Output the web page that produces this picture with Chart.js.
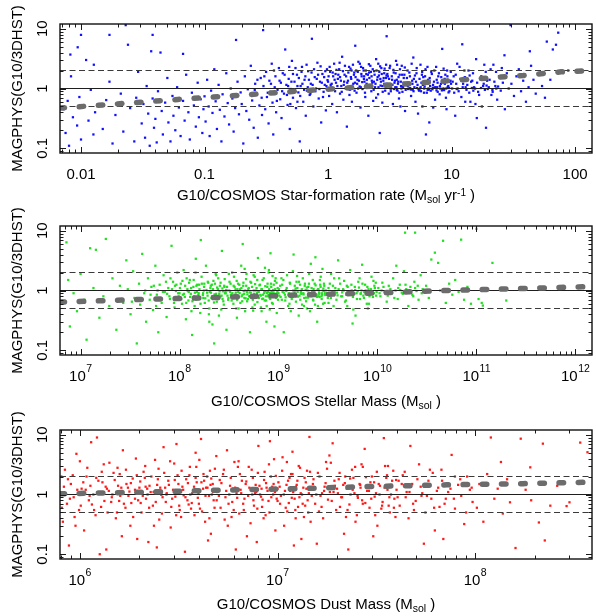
<!DOCTYPE html>
<html>
<head>
<meta charset="utf-8">
<script src="https://cdn.jsdelivr.net/npm/chart.js@4.4.1/dist/chart.umd.min.js"></script>
<style>
  html, body { margin: 0; padding: 0; background: #fff; }
  #wrap { position: relative; width: 596px; height: 616px; overflow: hidden; }
  #wrap canvas { position: absolute; left: 0; }
</style>
</head>
<body>
<div id="wrap">
  <canvas id="sfrChart" width="596" height="210" style="top:0px"></canvas>
  <canvas id="massChart" width="596" height="210" style="top:202px"></canvas>
  <canvas id="dustChart" width="596" height="210" style="top:406px"></canvas>
</div>
<script>
'use strict';

// ── Shared y axis (MAGPHYS / G10 ratio) ───────────────────
const ratioRange      = [0.0832, 12.02];
const ratioTicks      = [0.1, 1, 10];
const ratioTickLabels = ['0.1', '1', '10'];
const refLevels       = [0.5, 1, 2];

// ── Panel 1: star-formation rate ──────────────────────────
const sfrRange      = [0.00676, 137];
const sfrTicks      = [0.01, 0.1, 1, 10, 100];
const sfrTickLabels = ['0.01', '0.1', '1', '10', '100'];
const sfrTrendX     = [0.00676, 0.0207, 0.0608, 0.182, 0.516, 1.49, 4.39, 12.9, 38, 77, 120];
const sfrTrendY     = [0.47, 0.556, 0.656, 0.764, 0.891, 1.03, 1.2, 1.41, 1.65, 1.9, 1.98];
const sfrPoints = [
  [0.0072,0.45],[0.0075,0.18],[0.0078,0.62],[0.008,0.11],[0.0082,3.7],[0.0083,1.6],[0.0086,0.33],[0.0094,4.9],[0.0093,0.24],[0.0097,0.72],
  [0.01,7.9],[0.01,0.14],[0.0105,0.5],[0.011,3.0],[0.0115,0.29],[0.012,0.95],[0.0127,2.5],[0.0126,0.17],[0.013,0.4],[0.015,0.21],
  [0.016,0.64],[0.017,7.9],[0.017,1.3],[0.018,0.12],[0.019,0.36],[0.021,0.82],[0.022,0.19],[0.023,11.5],[0.024,5.4],[0.025,0.47],
  [0.027,0.13],[0.028,0.7],[0.029,1.9],
  [0.031,0.26],[0.032,0.55],[0.033,0.15],[0.034,1.1],[0.035,0.38],[0.036,0.11],[0.037,4.2],[0.038,7.9],[0.038,0.68],[0.039,0.22],
  [0.04,0.31],[0.041,0.125],[0.042,0.9],[0.044,4.0],[0.045,0.42],[0.046,0.17],[0.048,0.58],[0.05,1.5],[0.051,0.27],[0.053,0.13],
  [0.055,0.75],[0.056,0.35],[0.058,0.2],[0.06,1.05],[0.062,0.48],[0.064,0.16],[0.067,3.8],[0.067,0.62],[0.069,0.29],[0.071,1.7],
  [0.074,0.4],[0.076,0.14],[0.079,0.85],[0.082,0.52],[0.085,0.23],[0.088,1.25],[0.09,0.33],[0.093,0.66],[0.096,0.18],[0.098,0.45],
  [0.1,0.74],[0.102,0.28],[0.105,1.4],[0.108,0.5],[0.11,0.16],[0.113,0.92],[0.116,0.39],[0.12,2.1],[0.123,0.61],[0.126,0.21],
  [0.13,1.15],[0.133,0.44],[0.137,0.13],[0.14,0.8],[0.145,0.34],[0.15,1.8],[0.154,0.57],[0.158,0.25],[0.163,1.0],[0.168,0.68],
  [0.172,0.19],[0.177,0.47],[0.18,6.5],[0.185,1.3],[0.19,0.37],[0.196,0.86],[0.2,0.55],[0.206,0.12],[0.212,1.6],[0.218,0.42],
  [0.224,0.97],[0.23,0.3],[0.237,2.4],[0.243,0.63],[0.25,0.22],[0.257,1.2],[0.264,0.78],[0.27,0.15],[0.278,0.52],[0.285,1.5],
  [0.292,0.36],[0.298,9.5],
  [0.255,0.95],[0.268,1.4],[0.29,0.7],[0.305,1.6],[0.325,0.85],[0.345,1.2],[0.365,2.0],[0.385,0.62],[0.405,1.35],[0.425,0.9],
  [0.445,1.7],[0.465,0.78],[0.475,1.1],[0.485,2.3],[0.495,0.55],
  [0.3,1.1],[0.31,0.45],[0.315,1.9],[0.32,0.72],[0.33,0.26],[0.335,1.35],[0.34,0.88],[0.35,2.6],[0.355,0.58],[0.36,0.17],
  [0.37,1.05],[0.375,1.6],[0.38,0.4],[0.39,0.95],[0.4,2.2],[0.41,0.66],[0.415,1.25],[0.42,0.32],[0.43,1.8],[0.44,0.82],
  [0.45,4.5],[0.46,1.15],[0.47,0.53],[0.48,1.45],[0.49,0.21],[0.5,0.98],[0.51,2.9],[0.52,0.7],[0.535,1.3],[0.55,0.47],
  [0.56,1.7],[0.575,0.86],[0.59,0.13],[0.6,1.1],[0.615,2.3],[0.63,0.6],[0.645,1.4],[0.66,0.35],[0.675,0.92],[0.69,1.95],
  [0.71,0.78],[0.725,1.2],[0.74,6.8],[0.76,0.5],[0.78,1.55],[0.8,1.0],[0.82,2.7],[0.84,0.68],[0.86,1.3],[0.88,0.27],
  [0.9,1.75],[0.92,0.88],[0.94,1.15],[0.96,0.43],[0.98,2.1],
  [0.505,1.3],[0.52,1.75],[0.53,0.9],[0.545,2.2],[0.565,1.1],[0.58,1.5],[0.595,0.75],[0.61,1.9],[0.62,1.2],[0.64,0.95],
  [0.655,1.6],[0.67,2.5],[0.685,1.05],[0.7,1.4],[0.72,0.82],[0.735,1.85],[0.75,1.15],[0.77,2.1],[0.79,0.9],[0.81,1.45],
  [0.83,1.7],[0.85,0.98],[0.87,2.35],[0.89,1.25],[0.91,0.72],[0.93,1.55],[0.95,1.95],[0.97,1.1],[0.99,1.38],[0.565,0.6],
  [1.0,1.3],[1.02,0.75],[1.04,1.9],[1.06,1.05],[1.08,0.55],[1.1,1.6],[1.12,2.6],[1.14,0.9],[1.16,1.25],[1.18,0.4],
  [1.2,1.45],[1.23,2.1],[1.25,0.82],[1.28,1.1],[1.3,3.4],[1.33,0.65],[1.36,1.7],[1.39,1.0],[1.42,0.23],[1.45,1.35],
  [1.48,2.3],[1.5,0.95],[1.53,1.55],[1.56,0.6],[1.6,1.2],[1.63,1.85],[1.66,5.2],[1.7,0.85],[1.73,1.4],[1.76,2.8],
  [1.8,1.08],[1.83,0.48],[1.87,1.6],[1.9,0.98],[1.94,2.0],[1.97,1.3],[2.0,0.72],[2.04,1.75],[2.08,1.15],[2.12,0.35],
  [2.16,1.5],[2.2,2.4],[2.24,0.9],[2.28,1.25],[2.32,0.62],[2.36,1.95],[2.4,1.05],[2.45,3.1],[2.5,1.4],[2.54,0.8],
  [2.58,1.65],[2.62,0.18],[2.66,1.12],[2.7,2.2],[2.75,0.58],[2.8,1.35],[2.85,1.8],[2.9,0.92],[2.95,1.5],[2.98,7.5],
  [1.15,1.75],[1.35,1.3],[1.55,2.0],[1.75,1.0],[1.95,1.45],[2.15,1.85],[2.35,1.3],[2.55,2.6],[2.75,1.1],[1.25,1.55],
  [1.45,0.98],[1.65,1.25],[1.85,2.3],[2.05,1.2],[2.25,1.6],[2.45,0.7],[2.65,1.45],[2.85,1.2],[1.05,1.15],[2.95,2.5],
  [1.01,1.6],[1.03,2.3],[1.07,1.2],[1.09,1.85],[1.11,0.95],[1.13,1.4],[1.17,2.05],[1.19,1.1],[1.21,1.7],[1.24,2.7],
  [1.27,1.35],[1.29,0.88],[1.32,1.95],[1.34,1.15],[1.37,2.4],[1.4,1.6],[1.43,1.25],[1.46,1.85],[1.49,0.78],[1.52,2.15],
  [1.54,1.45],[1.57,1.1],[1.59,2.5],[1.62,1.7],[1.64,0.92],[1.67,1.55],[1.69,2.0],[1.72,1.2],[1.74,1.9],[1.78,1.35],
  [1.81,2.6],[1.84,1.05],[1.86,1.75],[1.89,1.28],[1.92,2.2],[1.96,1.6],[1.99,0.85],[2.02,2.0],[2.06,1.4],[2.1,1.7],
  [2.14,2.55],[2.18,1.15],[2.22,1.9],[2.26,1.35],[2.3,2.1],[2.34,0.95],[2.38,1.7],[2.42,1.2],[2.47,2.0],[2.52,1.55],
  [2.56,1.05],[2.6,1.9],[2.64,2.35],[2.68,1.3],[2.72,1.75],[2.77,0.88],[2.82,1.5],[2.87,2.15],[2.92,1.1],[2.97,1.65],
  [3.0,1.2],[3.05,1.6],[3.1,0.82],[3.15,2.2],[3.2,1.0],[3.3,1.4],[3.35,0.55],[3.4,1.85],[3.5,1.05],[3.55,2.9],
  [3.6,0.95],[3.7,1.3],[3.75,0.68],[3.8,1.7],[3.9,1.1],[3.95,2.4],[4.0,0.88],[4.1,1.5],[4.2,0.42],[4.3,1.2],
  [4.4,2.0],[4.5,1.0],[4.6,1.6],[4.7,0.75],[4.8,1.35],[4.9,3.3],[5.0,1.05],[5.1,0.6],[5.2,1.8],[5.3,1.15],
  [5.45,0.92],[5.6,2.5],[5.7,1.25],[5.8,0.5],[5.9,1.55],[6.0,1.0],[6.15,2.1],[6.3,0.85],[6.45,1.4],[6.6,0.27],
  [6.7,1.1],[6.85,1.9],[7.0,0.97],[7.2,1.3],[7.35,0.65],[7.5,2.3],[7.65,1.05],[7.8,1.6],[8.0,0.8],[8.2,1.2],
  [8.4,4.6],[8.6,1.0],[8.8,1.45],[9.0,0.7],[9.2,2.0],[9.4,1.1],[9.6,0.9],[9.8,1.35],
  [3.25,1.0],[3.65,0.92],[4.05,1.05],[4.45,0.98],[4.85,0.95],[5.25,1.02],[5.65,0.9],[6.05,1.08],[6.55,0.96],[7.05,1.03],
  [7.55,0.93],[8.1,1.0],[8.7,0.94],[9.3,1.06],[3.45,1.25],[4.15,1.7],[4.95,1.45],[5.75,1.7],[6.65,1.5],[7.7,1.25],
  [8.9,1.7],[9.9,1.2],[3.85,0.5],[5.35,0.38],[7.1,0.48],[9.1,0.45],[6.2,0.17],
  [3.02,1.75],[3.08,1.1],[3.12,1.45],[3.18,2.4],[3.22,0.9],[3.28,1.6],[3.32,1.15],[3.38,2.05],[3.42,0.98],[3.48,1.35],
  [3.52,1.8],[3.58,1.05],[3.62,2.5],[3.68,1.2],[3.72,1.55],[3.78,0.85],[3.82,2.1],[3.88,1.3],[3.92,1.0],[3.98,1.7],
  [4.08,1.25],[4.18,2.25],[4.25,0.95],[4.35,1.5],[4.42,1.1],[4.55,1.85],[4.62,1.02],[4.75,2.6],[4.82,1.2],[4.92,0.9],
  [5.05,1.65],[5.15,1.3],[5.22,2.2],[5.4,0.97],[5.5,1.45],[5.62,1.05],[5.78,1.9],[5.85,1.15],[5.98,0.85],[6.1,1.6],
  [6.25,1.25],[6.38,2.3],[6.5,1.0],[6.62,1.35],[6.78,0.92],[6.92,1.75],[7.08,1.15],[7.25,2.0],[7.4,1.05],[7.58,1.4],
  [7.72,0.88],[7.9,1.8],[8.05,1.1],[8.25,1.55],[8.45,0.98],[8.62,2.15],[8.82,1.2],[9.05,1.0],[9.25,1.6],[9.45,0.86],
  [9.65,1.3],[9.85,1.9],[4.02,1.08],[4.68,0.96],[5.55,1.0],[6.4,0.95],[7.3,1.04],[8.35,0.93],[9.55,1.02],[3.6,1.4],
  [10.2,1.3],[10.5,0.85],[10.8,1.7],[11.2,1.0],[11.6,2.3],[12.0,0.72],[12.4,1.2],[12.8,1.55],[13.2,0.95],[13.7,2.0],
  [14.2,0.6],[14.7,1.35],[15.2,1.05],[15.8,3.1],[16.4,0.88],[17.0,1.5],[17.6,0.5],[18.2,1.2],[18.9,1.9],[19.6,0.98],
  [20.3,1.4],[21.0,0.78],[21.8,2.5],[22.6,1.1],[23.4,0.65],[24.2,1.6],[25.0,0.92],[26.0,1.25],[27.0,0.45],[28.0,1.8],
  [29.0,1.0],[11.0,0.98],[13.0,1.05],[15.0,0.92],[17.3,1.02],[19.2,1.12],[21.4,0.95],[23.8,1.08],[10.7,0.35],[16.0,0.32],
  [12.2,5.5],[19.0,0.22],[25.5,2.2],[14.0,1.65],[26.8,3.6],[30,11.5],
  [10.1,1.0],[10.4,1.6],[10.9,1.2],[11.4,0.9],[11.8,1.45],[12.3,1.05],[12.7,2.0],[13.4,1.15],[13.9,0.85],[14.4,1.3],
  [14.9,1.8],[15.5,1.0],[16.1,1.25],[16.7,0.78],[17.4,1.6],[18.0,1.1],[18.6,0.95],[19.4,1.35],[20.0,1.05],[20.7,2.1],
  [21.5,0.88],[22.2,1.3],[23.0,1.0],[24.6,1.5],[11.1,2.6],[12.9,0.6],[15.6,0.55],[18.4,2.5],[22.9,1.9],[14.6,1.02],
  [30.5,1.2],[32,0.75],[33.5,1.6],[35,2.1],[36.5,0.9],[38,1.35],[40,0.6],[42,1.05],[44,2.4],[46,1.4],
  [48,0.82],[51,1.8],[54,1.1],[57,0.7],[43,4.2],
  [59,6.1],[66,4.5],[70,5.4],[73,8.6],[80,1.9],[88,2.0],[105,1.9],[63,1.4]
];

// ── Panel 2: stellar mass ─────────────────────────────────
const massRange    = [6.2e6, 1.47e12];
const massTicks    = [1e7, 1e8, 1e9, 1e10, 1e11, 1e12];
const massTickExps = ['7', '8', '9', '10', '11', '12'];
const massTrendX   = [6.2e6, 4e7, 2.38e8, 1.39e9, 8.3e9, 5.0e10, 2.95e11, 1.25e12];
const massTrendY   = [0.64, 0.708, 0.764, 0.836, 0.902, 1.0, 1.08, 1.155];
const massPoints = [
  [6.5e6,0.68],[7.2e6,6.4],[7.5e6,1.5],[7.8e6,0.25],[8.5e6,0.9],[9.2e6,0.45],[1.0e7,1.9],[1.1e7,0.7],[1.15e7,0.15],[1.25e7,5.1],
  [1.35e7,1.1],[1.43e7,4.8],[1.55e7,0.35],[1.7e7,0.8],[1.8e7,7.3],[1.95e7,0.55],[2.1e7,1.6],[2.3e7,0.22],[2.5e7,1.2],[2.7e7,0.62],
  [2.9e7,3.2],
  [3.0e7,1.05],[3.2e7,0.4],[3.4e7,2.1],[3.5e7,0.75],[3.7e7,0.13],[3.9e7,1.3],[4.0e7,0.58],[4.2e7,4.1],[4.4e7,0.9],[4.6e7,0.3],
  [4.8e7,1.6],[5.0e7,0.7],[5.2e7,1.15],[5.4e7,0.47],[5.7e7,2.6],[5.9e7,0.85],[6.1e7,0.2],[6.3e7,1.25],[6.6e7,0.62],[6.9e7,1.8],
  [7.1e7,0.95],[7.4e7,0.36],[7.7e7,1.1],[8.0e7,0.72],[8.3e7,5.6],[8.6e7,1.4],[8.9e7,0.52],[9.2e7,0.98],[9.5e7,2.0],[9.8e7,0.8],
  [4.5e7,1.0],[6.0e7,1.0],[7.5e7,0.88],[9.0e7,1.2],[3.3e7,0.65],
  [5.1e7,0.85],[5.5e7,1.2],[6.2e7,0.7],[6.8e7,0.95],[7.3e7,1.4],[7.9e7,0.8],[8.4e7,1.05],[8.8e7,0.62],[9.3e7,1.25],[9.7e7,0.9],
  [5.8e7,0.55],[8.1e7,1.6],
  [1.0e8,0.9],[1.03e8,1.3],[1.06e8,0.6],[1.1e8,2.2],[1.13e8,0.78],[1.16e8,0.33],[1.2e8,1.05],[1.23e8,0.68],[1.27e8,1.5],[1.3e8,0.88],
  [1.34e8,0.18],[1.38e8,1.15],[1.42e8,0.55],[1.46e8,3.4],[1.5e8,0.95],[1.54e8,0.72],[1.58e8,1.25],[1.62e8,0.42],[1.67e8,1.7],[1.72e8,0.84],
  [1.76e8,1.0],[1.8e8,0.62],[1.85e8,2.6],[1.9e8,0.92],[1.95e8,1.35],[2.0e8,0.5],[2.05e8,1.1],[2.1e8,0.75],[2.15e8,0.27],[2.2e8,1.45],
  [2.26e8,0.86],[2.32e8,1.9],[2.38e8,0.65],[2.44e8,1.05],[2.5e8,0.38],[2.56e8,1.2],[2.62e8,0.8],[2.68e8,4.6],[2.74e8,0.97],[2.8e8,0.58],
  [2.86e8,1.55],[2.93e8,0.9],[2.98e8,0.22],
  [1.08e8,0.85],[1.24e8,0.95],[1.4e8,0.8],[1.56e8,0.9],[1.74e8,0.75],[1.92e8,0.82],[2.08e8,0.92],[2.3e8,0.78],[2.52e8,0.88],[2.72e8,0.72],
  [2.9e8,0.95],[1.18e8,1.6],[1.48e8,1.2],[1.78e8,1.3],[2.12e8,1.25],[2.46e8,1.6],[2.84e8,1.15],[1.32e8,0.45],[1.98e8,0.4],[2.64e8,0.48],
  [1.64e8,7.0],[2.24e8,0.13],
  [1.01e8,1.1],[1.04e8,0.72],[1.07e8,1.45],[1.11e8,0.88],[1.14e8,1.2],[1.17e8,0.62],[1.21e8,0.98],[1.25e8,1.35],[1.28e8,0.78],[1.31e8,1.1],
  [1.35e8,0.66],[1.39e8,1.5],[1.43e8,0.92],[1.47e8,0.7],[1.51e8,1.25],[1.55e8,0.84],[1.59e8,1.05],[1.63e8,0.6],[1.68e8,1.3],[1.73e8,0.9],
  [1.77e8,1.15],[1.82e8,0.74],[1.87e8,1.02],[1.93e8,1.4],[1.97e8,0.68],[2.02e8,0.95],[2.07e8,1.2],[2.13e8,0.8],[2.18e8,1.05],[2.23e8,0.63],
  [2.28e8,1.3],[2.34e8,0.88],[2.4e8,1.12],[2.47e8,0.72],[2.54e8,0.97],[2.6e8,1.35],[2.66e8,0.82],[2.71e8,1.08],[2.77e8,0.66],[2.83e8,1.2],
  [2.88e8,0.9],[2.95e8,1.02],[1.45e8,2.0],[2.35e8,1.8],[2.0e8,0.3],
  [3.0e8,1.0],[3.1e8,0.7],[3.2e8,1.4],[3.3e8,0.85],[3.4e8,2.0],[3.5e8,0.6],[3.6e8,1.15],[3.7e8,0.92],[3.8e8,0.35],[3.9e8,1.3],
  [4.0e8,0.78],[4.1e8,1.05],[4.2e8,2.6],[4.3e8,0.66],[4.4e8,1.2],[4.5e8,0.88],[4.6e8,0.45],[4.7e8,1.55],[4.8e8,0.95],[4.9e8,0.72],
  [5.0e8,1.1],[5.15e8,0.2],[5.3e8,1.35],[5.45e8,0.82],[5.6e8,1.8],[5.75e8,0.58],[5.9e8,1.0],[6.05e8,0.9],[6.2e8,3.5],[6.35e8,0.75],
  [6.5e8,1.25],[6.65e8,0.52],[6.8e8,1.05],[6.95e8,0.85],[7.1e8,1.6],[7.25e8,0.68],[7.4e8,0.97],[7.55e8,0.3],[7.7e8,1.15],[7.85e8,0.8],
  [8.0e8,2.2],[8.2e8,0.92],[8.4e8,1.3],[8.6e8,0.62],[8.8e8,1.02],[9.0e8,0.78],[9.2e8,1.45],[9.4e8,0.88],[9.6e8,0.42],[9.8e8,1.1],
  [3.05e8,0.82],[3.25e8,0.95],[3.45e8,0.78],[3.65e8,0.85],[3.85e8,1.05],[4.05e8,0.9],[4.25e8,0.8],[4.45e8,0.98],[4.65e8,0.74],[4.85e8,0.86],
  [5.1e8,0.93],[5.35e8,0.77],[5.65e8,0.88],[5.95e8,0.8],[6.25e8,0.96],[6.55e8,0.84],[6.85e8,0.72],[7.15e8,0.9],[7.45e8,0.8],[7.8e8,0.94],
  [8.1e8,0.76],[8.5e8,0.87],[8.9e8,0.93],[9.3e8,0.8],[9.7e8,0.9],[3.55e8,1.7],[4.75e8,1.9],[6.1e8,1.5],[7.3e8,2.4],[8.7e8,1.75],
  [3.75e8,0.5],[5.55e8,0.46],[7.6e8,0.55],[9.1e8,0.25],[4.35e8,6.0],[8.3e8,4.2],
  [3.02e8,1.15],[3.12e8,0.75],[3.18e8,1.0],[3.28e8,1.3],[3.36e8,0.68],[3.42e8,0.9],[3.52e8,1.2],[3.58e8,0.8],[3.68e8,1.05],[3.78e8,1.45],
  [3.82e8,0.7],[3.92e8,0.95],[4.02e8,1.25],[4.12e8,0.62],[4.22e8,1.1],[4.32e8,0.85],[4.42e8,1.35],[4.52e8,0.75],[4.62e8,1.0],[4.72e8,1.2],
  [4.82e8,0.66],[4.95e8,1.05],[5.05e8,0.8],[5.2e8,1.4],[5.25e8,0.92],[5.4e8,1.15],[5.5e8,0.7],[5.62e8,1.0],[5.8e8,1.28],[5.88e8,0.78],
  [6.0e8,1.1],[6.12e8,0.64],[6.3e8,0.95],[6.42e8,1.22],[6.6e8,0.82],[6.72e8,1.05],[6.9e8,1.5],[7.0e8,0.73],[7.2e8,0.98],[7.35e8,1.18],
  [7.5e8,0.68],[7.62e8,0.9],[7.75e8,1.3],[7.92e8,0.85],[8.05e8,1.05],[8.25e8,0.72],[8.45e8,1.15],[8.55e8,0.95],[8.75e8,0.6],[8.95e8,1.25],
  [9.05e8,0.88],[9.25e8,1.05],[9.45e8,0.75],[9.55e8,1.35],[9.75e8,0.98],[9.9e8,0.7],[3.15e8,1.9],[4.55e8,2.3],[5.75e8,1.7],[6.75e8,0.45],
  [7.95e8,2.0],[9.35e8,1.6],[3.95e8,0.5],[5.45e8,0.52],[8.15e8,0.48],
  [1.0e9,0.9],[1.04e9,1.2],[1.08e9,0.7],[1.12e9,1.5],[1.16e9,0.85],[1.2e9,0.98],[1.25e9,0.55],[1.3e9,1.35],[1.35e9,0.8],[1.4e9,2.1],
  [1.45e9,0.92],[1.5e9,0.65],[1.55e9,1.1],[1.6e9,0.38],[1.65e9,1.25],[1.7e9,0.88],[1.76e9,1.6],[1.82e9,0.75],[1.88e9,1.02],[1.94e9,0.5],
  [2.0e9,1.15],[2.06e9,0.82],[2.12e9,2.8],[2.18e9,0.95],[2.25e9,0.68],[2.32e9,1.3],[2.39e9,0.86],[2.46e9,0.3],[2.53e9,1.05],[2.6e9,0.78],
  [2.67e9,1.7],[2.74e9,0.9],[2.82e9,0.6],[2.9e9,1.2],[2.97e9,0.84],
  [1.02e9,0.82],[1.1e9,0.95],[1.18e9,0.77],[1.27e9,0.9],[1.37e9,0.84],[1.47e9,1.0],[1.57e9,0.79],[1.68e9,0.93],[1.79e9,0.86],[1.9e9,0.76],
  [2.02e9,0.92],[2.15e9,0.8],[2.29e9,0.97],[2.43e9,0.85],[2.57e9,0.93],[2.72e9,0.8],[2.87e9,0.98],[1.22e9,1.8],[1.52e9,1.4],[1.85e9,1.3],
  [2.22e9,1.5],[2.64e9,1.25],[1.33e9,0.45],[1.73e9,0.58],[2.08e9,0.45],[2.5e9,0.55],[1.42e9,4.0],[2.36e9,3.6],[1.13e9,0.2],[2.78e9,2.3],
  [1.01e9,1.05],[1.05e9,0.78],[1.09e9,1.25],[1.13e9,0.92],[1.17e9,0.68],[1.21e9,1.1],[1.26e9,0.85],[1.31e9,1.3],[1.36e9,0.72],[1.41e9,1.0],
  [1.46e9,1.2],[1.51e9,0.8],[1.56e9,0.95],[1.61e9,1.4],[1.66e9,0.7],[1.72e9,1.05],[1.78e9,0.9],[1.84e9,1.2],[1.9e9,0.66],[1.96e9,1.0],
  [2.03e9,1.3],[2.1e9,0.82],[2.16e9,1.1],[2.23e9,0.7],[2.3e9,0.98],[2.37e9,1.22],[2.44e9,0.78],[2.51e9,1.05],[2.58e9,0.88],[2.66e9,1.15],
  [2.73e9,0.72],[2.8e9,1.0],[2.88e9,1.3],[2.95e9,0.9],[1.07e9,1.6],[1.29e9,0.6],[1.54e9,1.75],[1.81e9,0.55],[2.04e9,1.9],[2.34e9,0.58],
  [2.62e9,1.5],[2.92e9,0.62],[1.19e9,1.02],[1.39e9,0.88],[1.63e9,0.82],[1.93e9,1.12],[2.2e9,0.92],[2.48e9,1.02],[2.76e9,0.85],[1.49e9,1.08],
  [1.69e9,0.98],[1.99e9,0.76],[2.26e9,1.06],[2.54e9,0.8],[2.84e9,1.08],
  [3.0e9,1.0],[3.15e9,0.75],[3.3e9,1.3],[3.45e9,0.88],[3.6e9,0.55],[3.75e9,1.1],[3.9e9,0.92],[4.1e9,1.6],[4.3e9,0.8],[4.5e9,1.05],
  [4.7e9,0.65],[4.9e9,1.2],[5.1e9,0.95],[5.3e9,2.2],[5.5e9,0.85],[5.7e9,0.48],[5.9e9,1.15],[6.15e9,0.9],[6.4e9,1.4],[6.65e9,0.72],
  [6.9e9,1.0],[7.2e9,0.82],[7.5e9,1.25],[7.8e9,0.6],[8.1e9,1.05],[8.4e9,0.9],[8.7e9,1.7],[9.0e9,0.78],[9.4e9,1.1],[9.8e9,0.95],
  [3.1e9,0.9],[3.5e9,0.95],[3.95e9,0.83],[4.4e9,0.93],[4.85e9,0.85],[5.35e9,0.98],[5.85e9,0.88],[6.3e9,0.97],[6.8e9,0.9],[7.35e9,0.94],
  [7.95e9,0.87],[8.55e9,1.0],[9.2e9,0.9],[3.4e9,1.9],[4.6e9,1.45],[6.0e9,0.38],[7.0e9,2.7],[8.0e9,0.5],[9.6e9,1.35],[4.0e9,3.2],
  [5.6e9,0.28],[3.2e9,0.62],
  [3.05e9,0.85],[3.2e9,1.1],[3.38e9,0.75],[3.55e9,1.2],[3.7e9,0.95],[3.85e9,0.7],[4.05e9,1.05],[4.2e9,1.3],[4.4e9,0.8],[4.55e9,1.0],
  [4.8e9,0.68],[5.0e9,1.15],[5.2e9,0.9],[5.45e9,1.25],[5.65e9,0.78],[5.95e9,1.02],[6.2e9,0.72],[6.5e9,1.12],[6.75e9,0.88],[7.05e9,1.3],
  [7.3e9,0.75],[7.6e9,1.0],[7.9e9,1.15],[8.3e9,0.8],[8.6e9,1.05],[8.95e9,0.9],[9.3e9,1.2],[9.7e9,0.82],[3.65e9,1.6],[4.95e9,0.55],
  [6.6e9,1.6],[8.2e9,0.6],[9.1e9,1.45],[5.5e9,1.0],[7.7e9,0.92],
  [1.02e10,1.1],[1.07e10,0.8],[1.12e10,1.35],[1.18e10,0.95],[1.24e10,0.65],[1.3e10,1.2],[1.37e10,0.88],[1.44e10,1.6],[1.52e10,1.0],[1.6e10,0.72],
  [1.68e10,1.25],[1.76e10,0.92],[1.85e10,2.1],[1.95e10,1.05],[2.05e10,0.55],[2.15e10,1.15],[2.25e10,0.85],[2.36e10,1.4],[2.48e10,0.98],[2.6e10,0.7],
  [2.73e10,1.8],[2.86e10,1.05],[1.1e10,1.0],[1.4e10,0.9],[1.7e10,1.02],[2.0e10,0.93],[2.4e10,1.1],[1.55e10,2.6],[1.9e10,9.3],[2.4e10,9.3],
  [1.05e10,0.9],[1.15e10,1.15],[1.27e10,0.82],[1.35e10,1.05],[1.48e10,0.75],[1.62e10,1.1],[1.8e10,0.88],[1.92e10,1.25],[2.1e10,0.95],[2.3e10,0.8],
  [2.55e10,1.2],[2.8e10,0.9],
  [3.1e10,1.2],[3.3e10,0.75],[3.5e10,3.3],[3.8e10,4.3],[4.1e10,2.9],[4.3e10,1.0],[4.6e10,6.8],[4.9e10,0.62],[5.3e10,1.3],[5.7e10,0.85],
  [6.1e10,1.5],[6.6e10,0.95],[7.0e10,7.1],[7.5e10,0.7],[8.1e10,1.15],[8.8e10,0.6],[1.0e11,10.8],[1.05e11,0.72],
  [1.13e11,0.62],[1.16e11,0.56],[1.45e11,2.9],[2.0e11,0.68]
];

// ── Panel 3: dust mass ────────────────────────────────────
const dustRange    = [7.93e5, 3.9e8];
const dustTicks    = [1e6, 1e7, 1e8];
const dustTickExps = ['6', '7', '8'];
const dustTrendX   = [7.93e5, 2.01e6, 4.9e6, 1.19e7, 2.92e7, 7.2e7, 1.75e8, 3.6e8];
const dustTrendY   = [1.03, 1.09, 1.18, 1.245, 1.36, 1.45, 1.52, 1.6];
const dustPoints = [
  [8.0e5,1.1],[8.2e5,0.35],[8.4e5,2.6],[8.6e5,0.7],[8.8e5,0.14],[9.0e5,1.5],[9.3e5,0.9],[9.6e5,4.8],[9.9e5,0.55],[1.02e6,1.25],
  [1.05e6,0.25],[1.08e6,2.0],[1.11e6,0.8],[1.14e6,7.5],[1.17e6,1.0],[1.2e6,0.45],[1.24e6,1.7],[1.28e6,0.62],[1.32e6,3.2],[1.36e6,0.12],
  [1.4e6,1.15],[1.44e6,0.75],[1.48e6,2.3],[1.52e6,0.4],[1.56e6,1.4],[1.6e6,0.95],[1.65e6,5.5],[1.7e6,0.6],[1.75e6,1.3],[1.8e6,0.3],
  [1.85e6,1.85],[1.9e6,0.85],[1.95e6,0.18],[1.98e6,1.05],
  [8.1e5,0.6],[8.7e5,1.8],[9.4e5,0.42],[1.0e6,3.6],[1.07e6,1.2],[1.15e6,0.68],[1.22e6,9.0],[1.3e6,1.6],[1.38e6,0.5],[1.46e6,1.0],
  [1.55e6,2.8],[1.63e6,0.2],[1.72e6,1.5],[1.82e6,0.72],[1.92e6,4.0],[8.5e5,1.0],[1.12e6,0.95],[1.35e6,1.35],[1.58e6,0.78],[1.78e6,1.12],
  [1.26e6,0.1],
  [8.3e5,1.35],[8.9e5,0.85],[9.2e5,2.1],[9.7e5,1.2],[1.01e6,0.65],[1.04e6,1.6],[1.09e6,2.8],[1.13e6,1.4],[1.18e6,0.55],[1.21e6,1.9],
  [1.25e6,1.05],[1.29e6,2.4],[1.33e6,0.78],[1.37e6,1.25],[1.41e6,3.4],[1.45e6,0.9],[1.5e6,1.75],[1.54e6,0.5],[1.59e6,2.2],[1.62e6,1.3],
  [1.67e6,0.7],[1.71e6,2.6],[1.76e6,0.95],[1.81e6,1.55],[1.86e6,0.42],[1.9e6,1.2],[1.94e6,2.1],[1.97e6,0.8],[8.05e5,2.0],[9.5e5,0.3],
  [2.0e6,1.3],[2.05e6,0.5],[2.1e6,2.4],[2.16e6,0.85],[2.22e6,0.16],[2.28e6,1.1],[2.34e6,0.65],[2.4e6,3.8],[2.46e6,1.45],[2.52e6,0.38],
  [2.58e6,1.0],[2.65e6,6.2],[2.72e6,0.75],[2.8e6,1.7],[2.88e6,0.28],[2.96e6,1.2],[3.04e6,0.92],[3.12e6,2.1],[3.2e6,0.55],[3.3e6,1.35],
  [3.4e6,0.11],[3.5e6,0.8],[3.6e6,2.9],[3.7e6,1.05],[3.8e6,0.45],[3.9e6,1.6],[4.0e6,0.7],[4.1e6,8.5],[4.2e6,1.25],[4.3e6,0.35],
  [4.4e6,2.0],[4.5e6,0.95],[4.6e6,0.22],[4.7e6,1.5],[4.8e6,0.6],[4.9e6,4.4],
  [2.03e6,0.72],[2.13e6,1.9],[2.25e6,1.4],[2.37e6,0.3],[2.5e6,2.7],[2.62e6,0.9],[2.75e6,1.05],[2.9e6,0.62],[3.0e6,3.3],[3.15e6,1.5],
  [3.25e6,0.42],[3.45e6,1.8],[3.55e6,0.68],[3.75e6,1.15],[3.85e6,5.0],[3.95e6,0.88],[4.15e6,0.52],[4.35e6,1.3],[4.55e6,2.5],[4.75e6,0.8],
  [4.95e6,1.1],[2.2e6,1.0],[2.7e6,1.3],[3.35e6,0.97],[3.65e6,0.58],[4.25e6,1.7],[4.65e6,1.0],[2.45e6,0.13],[3.08e6,7.0],[4.45e6,0.17],
  [2.02e6,1.65],[2.08e6,0.95],[2.14e6,3.0],[2.19e6,1.25],[2.24e6,0.6],[2.3e6,2.0],[2.36e6,1.1],[2.42e6,0.75],[2.48e6,1.8],[2.55e6,1.3],
  [2.6e6,0.48],[2.67e6,2.3],[2.74e6,1.0],[2.82e6,1.45],[2.86e6,3.6],[2.93e6,0.85],[3.02e6,1.75],[3.1e6,1.15],[3.18e6,0.65],[3.27e6,2.5],
  [3.33e6,1.2],[3.42e6,0.9],[3.52e6,1.55],[3.58e6,2.1],[3.68e6,0.72],[3.78e6,1.35],[3.88e6,2.9],[3.98e6,1.05],[4.05e6,0.58],[4.12e6,1.6],
  [4.22e6,2.2],[4.32e6,0.95],[4.42e6,1.3],[4.52e6,0.4],[4.62e6,1.85],[4.72e6,1.1],[4.82e6,2.7],[4.92e6,0.8],[2.58e6,1.0],[3.07e6,0.45],
  [3.62e6,1.0],[4.02e6,3.8],[4.58e6,1.45],[2.15e6,1.35],[3.85e6,1.9],
  [5.0e6,1.2],[5.15e6,0.6],[5.3e6,2.2],[5.45e6,0.9],[5.6e6,0.3],[5.75e6,1.4],[5.9e6,0.75],[6.05e6,3.5],[6.2e6,1.05],[6.4e6,0.48],
  [6.6e6,1.7],[6.8e6,0.85],[7.0e6,0.2],[7.2e6,1.3],[7.4e6,2.6],[7.6e6,0.65],[7.8e6,1.1],[8.0e6,6.5],[8.25e6,0.92],[8.5e6,0.4],
  [8.75e6,1.55],[9.0e6,0.78],[9.25e6,2.0],[9.5e6,1.0],[9.75e6,0.25],[1.0e7,1.25],[1.03e7,0.7],[1.06e7,4.2],[1.09e7,1.15],[1.12e7,0.52],
  [1.15e7,1.9],[1.18e7,0.88],[1.21e7,0.14],[1.24e7,1.35],[1.27e7,0.62],[1.3e7,2.8],[1.33e7,1.0],[1.36e7,0.42],[1.39e7,1.6],[1.42e7,0.8],
  [1.45e7,9.2],[1.48e7,1.2],
  [5.1e6,1.75],[5.4e6,0.38],[5.7e6,1.0],[6.0e6,0.55],[6.3e6,2.9],[6.5e6,1.2],[6.7e6,0.7],[6.9e6,1.5],[7.1e6,0.95],[7.3e6,0.33],
  [7.5e6,1.9],[7.7e6,1.05],[7.9e6,0.58],[8.1e6,1.4],[8.4e6,0.82],[8.6e6,2.4],[8.9e6,1.15],[9.1e6,0.5],[9.4e6,1.35],[9.6e6,3.9],
  [9.9e6,0.85],[1.01e7,1.6],[1.04e7,0.95],[1.08e7,0.3],[1.11e7,1.45],[1.14e7,0.72],[1.17e7,2.2],[1.2e7,1.1],[1.23e7,0.55],[1.26e7,1.7],
  [1.29e7,0.9],[1.32e7,0.18],[1.35e7,1.3],[1.38e7,0.65],[1.41e7,2.5],[1.44e7,1.05],[5.55e6,5.5],[6.15e6,0.12],[7.85e6,0.16],[9.15e6,7.8],
  [1.19e7,5.2],[1.47e7,0.35],[5.95e6,1.25],[8.3e6,1.25],
  [5.05e6,0.95],[5.2e6,1.55],[5.35e6,2.6],[5.5e6,1.15],[5.65e6,0.7],[5.8e6,1.9],[6.1e6,1.3],[6.25e6,0.88],[6.45e6,2.2],[6.55e6,1.05],
  [6.75e6,0.55],[6.95e6,1.65],[7.15e6,2.9],[7.35e6,1.2],[7.55e6,0.8],[7.75e6,1.45],[7.95e6,2.3],[8.15e6,1.0],[8.35e6,0.62],[8.55e6,1.75],
  [8.8e6,1.3],[9.05e6,3.2],[9.3e6,0.9],[9.55e6,1.5],[9.8e6,2.05],[1.0e7,0.78],[1.025e7,1.35],[1.055e7,2.5],[1.075e7,1.0],[1.1e7,0.6],
  [1.13e7,1.7],[1.16e7,1.15],[1.19e7,2.2],[1.22e7,0.85],[1.25e7,1.45],[1.28e7,3.0],[1.31e7,1.05],[1.34e7,0.7],[1.37e7,1.9],[1.4e7,1.25],
  [1.43e7,0.5],[1.46e7,2.4],[1.49e7,0.95],[6.35e6,3.6],[8.7e6,0.45],[1.115e7,3.5],[7.45e6,1.0],[9.7e6,1.1],[1.235e7,0.4],[5.85e6,0.42],
  [1.5e7,1.3],[1.55e7,0.7],[1.6e7,2.3],[1.65e7,0.95],[1.7e7,0.4],[1.75e7,1.55],[1.8e7,0.82],[1.86e7,3.4],[1.92e7,1.1],[1.98e7,0.55],
  [2.04e7,1.8],[2.1e7,0.9],[2.17e7,0.22],[2.24e7,1.25],[2.31e7,0.68],[2.38e7,2.6],[2.45e7,1.05],[2.52e7,0.45],[2.6e7,1.5],[2.68e7,0.8],
  [2.76e7,5.8],[2.84e7,1.15],[2.92e7,0.6],[3.0e7,2.0],[3.1e7,0.92],[3.2e7,0.3],[3.3e7,1.4],[3.4e7,0.75],[3.5e7,3.0],[3.6e7,1.2],
  [3.7e7,0.5],[3.8e7,1.7],[3.9e7,0.85],
  [1.52e7,1.8],[1.62e7,0.52],[1.72e7,1.15],[1.83e7,4.5],[1.95e7,1.4],[2.07e7,0.62],[2.2e7,2.0],[2.34e7,1.0],[2.48e7,0.35],[2.63e7,1.3],
  [2.78e7,0.72],[2.95e7,1.6],[3.15e7,1.05],[3.35e7,0.58],[3.55e7,1.9],[3.75e7,1.0],[3.95e7,0.42],[1.58e7,0.15],[1.9e7,7.2],[2.28e7,0.12],
  [2.7e7,2.9],[3.05e7,0.2],[3.45e7,8.8],[2.15e7,1.45],[2.55e7,0.88],[2.88e7,1.35],[3.25e7,1.5],[3.65e7,0.65],[1.68e7,1.05],[2.42e7,1.9],
  [3.85e7,2.5],
  [1.51e7,1.5],[1.57e7,1.0],[1.63e7,2.0],[1.67e7,0.62],[1.73e7,1.35],[1.78e7,2.7],[1.84e7,1.1],[1.88e7,0.78],[1.94e7,1.7],[2.0e7,1.25],
  [2.06e7,2.3],[2.12e7,0.9],[2.19e7,1.55],[2.26e7,0.55],[2.33e7,1.85],[2.4e7,1.2],[2.47e7,2.9],[2.54e7,0.95],[2.62e7,1.45],[2.7e7,0.7],
  [2.8e7,1.95],[2.9e7,1.15],[2.98e7,0.85],[3.08e7,1.6],[3.18e7,2.4],[3.28e7,1.0],[3.38e7,0.65],[3.48e7,1.3],[3.58e7,2.1],[3.68e7,0.9],
  [3.78e7,1.45],[3.88e7,0.6],[3.98e7,1.75],[1.76e7,3.5],[2.22e7,0.42],[2.66e7,3.2],[3.12e7,0.45],[3.62e7,3.0],[2.02e7,1.05],[2.85e7,1.3],
  [4.0e7,1.2],[4.15e7,0.65],[4.3e7,2.1],[4.45e7,0.9],[4.6e7,0.4],[4.8e7,1.5],[5.0e7,0.78],[5.2e7,3.2],[5.4e7,1.05],[5.6e7,0.5],
  [5.8e7,1.7],[6.0e7,0.85],[6.25e7,0.25],[6.5e7,1.3],[6.75e7,2.6],[7.0e7,0.7],[7.3e7,1.1],[7.6e7,4.6],[7.9e7,0.58],[8.2e7,1.45],
  [8.5e7,0.95],[8.8e7,0.32],[9.1e7,2.0],[9.4e7,1.2],[9.7e7,0.75],
  [4.1e7,1.7],[4.5e7,1.1],[4.9e7,0.55],[5.3e7,1.35],[5.7e7,0.95],[6.1e7,2.3],[6.6e7,0.62],[7.2e7,1.55],[7.8e7,0.85],[8.4e7,1.8],
  [9.0e7,0.5],[9.6e7,1.3],[4.7e7,6.5],[6.9e7,0.18],[5.5e7,0.15],
  [4.05e7,0.9],[4.25e7,1.5],[4.4e7,2.4],[4.65e7,1.1],[4.85e7,0.7],[5.1e7,1.8],[5.35e7,0.95],[5.6e7,1.35],[5.9e7,2.6],[6.2e7,0.6],
  [6.4e7,1.15],[6.8e7,1.7],[7.1e7,0.85],[7.5e7,1.25],[7.9e7,2.0],
  [1.02e8,0.6],[1.05e8,1.5],[1.1e8,0.35],[1.15e8,2.2],[1.2e8,9.0],[1.25e8,0.85],[1.3e8,1.25],[1.38e8,0.48],[1.45e8,1.8],[1.5e8,0.74],
  [1.6e8,0.127],[1.7e8,8.6],[1.8e8,1.2],[1.9e8,2.85],[1.92e8,0.8],[2.1e8,0.34],[2.2e8,7.1],[2.25e8,0.17],[2.4e8,0.65],[2.9e8,0.64],
  [3.0e8,0.74],[3.4e8,7.4],[3.7e8,5.1],[1.35e8,3.5],[2.6e8,1.4]
];

// ── Frame, inward ticks and labels (R/magicaxis look) ────
const FONT = '"Liberation Sans", Arial, Helvetica, sans-serif';

function minorTicks(majors, lo, hi) {
    const out = [];
    [majors[0] / 10, ...majors].forEach(d => {
        for (let k = 2; k <= 9; k++) {
            const v = d * k;
            if (v > lo && v < hi) out.push(v);
        }
    });
    return out;
}

const axisFrame = {
    id: 'axisFrame',
    afterDraw(chart, args, o) {
        const { ctx, chartArea: a, scales: { x, y } } = chart;
        ctx.save();

        // ticks on all four sides, pointing in
        ctx.strokeStyle = '#1a1a1a';
        ctx.lineWidth = 1;
        ctx.beginPath();
        const xTick = (v, len) => {
            const p = Math.round(x.getPixelForValue(v)) + 0.5;
            ctx.moveTo(p, a.bottom); ctx.lineTo(p, a.bottom - len);
            ctx.moveTo(p, a.top);    ctx.lineTo(p, a.top + len);
        };
        const yTick = (v, len) => {
            const p = Math.round(y.getPixelForValue(v)) + 0.5;
            ctx.moveTo(a.left, p);  ctx.lineTo(a.left + len, p);
            ctx.moveTo(a.right, p); ctx.lineTo(a.right - len, p);
        };
        o.xTicks.filter(v => v >= x.min && v <= x.max).forEach(v => xTick(v, 6));
        minorTicks(o.xTicks, x.min, x.max).forEach(v => xTick(v, 3.5));
        ratioTicks.forEach(v => yTick(v, 6));
        minorTicks(ratioTicks, y.min, y.max).forEach(v => yTick(v, 3.5));
        ctx.stroke();

        // box
        ctx.strokeStyle = '#111';
        ctx.lineWidth = 1.4;
        ctx.strokeRect(a.left, a.top, a.right - a.left, a.bottom - a.top);

        ctx.fillStyle = '#000';
        ctx.textBaseline = 'alphabetic';

        // x tick labels (plain or 10^n)
        const labelBase = a.bottom + 25.5;
        o.xTicks.forEach((v, i) => {
            const px = x.getPixelForValue(v);
            const base = o.xExps ? '10' : o.xLabels[i];
            const exp  = o.xExps ? o.xExps[i] : '';
            ctx.font = '15px ' + FONT;
            const wb = ctx.measureText(base).width;
            ctx.font = '10.5px ' + FONT;
            const we = exp ? ctx.measureText(exp).width + 0.5 : 0;
            const x0 = px - (wb + we) / 2;
            ctx.textAlign = 'left';
            ctx.font = '15px ' + FONT;
            ctx.fillText(base, x0, labelBase);
            if (exp) {
                ctx.font = '10.5px ' + FONT;
                ctx.fillText(exp, x0 + wb + 0.5, labelBase - 9);
            }
        });

        // y tick labels, rotated
        ctx.font = '15px ' + FONT;
        ctx.textAlign = 'center';
        ratioTicks.forEach((v, i) => {
            ctx.save();
            ctx.translate(47, y.getPixelForValue(v));
            ctx.rotate(-Math.PI / 2);
            ctx.fillText(ratioTickLabels[i], 0, 0);
            ctx.restore();
        });

        // y title
        ctx.save();
        ctx.translate(21.5, (a.top + a.bottom) / 2);
        ctx.rotate(-Math.PI / 2);
        ctx.fillText('MAGPHYS(G10/3DHST)', 0, 0);
        ctx.restore();

        // x title with sub/superscripts
        const sizes = { n: 15, sub: 10.5, sup: 10 };
        const shift = { n: 0, sub: 3, sup: -4 };
        let total = 0;
        o.title.forEach(p => {
            ctx.font = sizes[p.k || 'n'] + 'px ' + FONT;
            p.w = ctx.measureText(p.t).width;
            total += p.w;
        });
        let tx = (a.left + a.right) / 2 - total / 2;
        const tb = a.bottom + o.titleOffset;
        ctx.textAlign = 'left';
        o.title.forEach(p => {
            const k = p.k || 'n';
            ctx.font = sizes[k] + 'px ' + FONT;
            ctx.fillText(p.t, tx, tb + shift[k]);
            tx += p.w;
        });

        ctx.restore();
    }
};

// ── Panel builder ─────────────────────────────────────────
function buildPanel(id, cfg) {
    const datasets = [
        {
            label: 'running median',
            data: cfg.trendX.map((v, i) => ({ x: v, y: cfg.trendY[i] })),
            showLine: true,
            borderColor: '#6c6c6c',
            borderWidth: 5.5,
            borderDash: [4.5, 14.7],
            borderCapStyle: 'round',
            pointRadius: 0,
            clip: 0,
            order: 0,
        },
        ...refLevels.map(level => ({
            label: 'ratio ' + level,
            data: cfg.range.map(v => ({ x: v, y: level })),
            showLine: true,
            borderColor: level === 1 ? '#1e1e1e' : '#3a3a3a',
            borderWidth: 1.2,
            borderDash: level === 1 ? [] : [6, 3.5],
            pointRadius: 0,
            clip: 0,
            order: 1,
        })),
        {
            label: 'galaxies',
            data: cfg.points.map(p => ({ x: p[0], y: p[1] })),
            backgroundColor: cfg.colour,
            borderWidth: 0,
            pointStyle: 'rect',
            pointRadius: 1.6,
            clip: 0,
            order: 2,
        },
    ];

    new Chart(document.getElementById(id).getContext('2d'), {
        type: 'scatter',
        data: { datasets },
        options: {
            responsive: false,
            animation: false,
            events: [],
            layout: { padding: { left: 60, right: 3, top: 24, bottom: 57 } },
            plugins: {
                legend: { display: false },
                tooltip: { enabled: false },
                axisFrame: cfg.frame,
            },
            scales: {
                x: { type: 'logarithmic', min: cfg.range[0], max: cfg.range[1], display: false },
                y: { type: 'logarithmic', min: ratioRange[0], max: ratioRange[1], display: false },
            },
        },
        plugins: [axisFrame],
    });
}

buildPanel('sfrChart', {
    range: sfrRange, points: sfrPoints, trendX: sfrTrendX, trendY: sfrTrendY, colour: '#1010ff',
    frame: {
        xTicks: sfrTicks, xLabels: sfrTickLabels, titleOffset: 47,
        title: [{ t: 'G10/COSMOS Star-formation rate (M' }, { t: 'sol', k: 'sub' }, { t: ' yr' }, { t: '-1', k: 'sup' }, { t: ' )' }],
    },
});

buildPanel('massChart', {
    range: massRange, points: massPoints, trendX: massTrendX, trendY: massTrendY, colour: '#20e020',
    frame: {
        xTicks: massTicks, xExps: massTickExps, titleOffset: 51,
        title: [{ t: 'G10/COSMOS Stellar Mass (M' }, { t: 'sol', k: 'sub' }, { t: ' )' }],
    },
});

buildPanel('dustChart', {
    range: dustRange, points: dustPoints, trendX: dustTrendX, trendY: dustTrendY, colour: '#ff1a1a',
    frame: {
        xTicks: dustTicks, xExps: dustTickExps, titleOffset: 50,
        title: [{ t: 'G10/COSMOS Dust Mass (M' }, { t: 'sol', k: 'sub' }, { t: ' )' }],
    },
});
</script>
</body>
</html>
